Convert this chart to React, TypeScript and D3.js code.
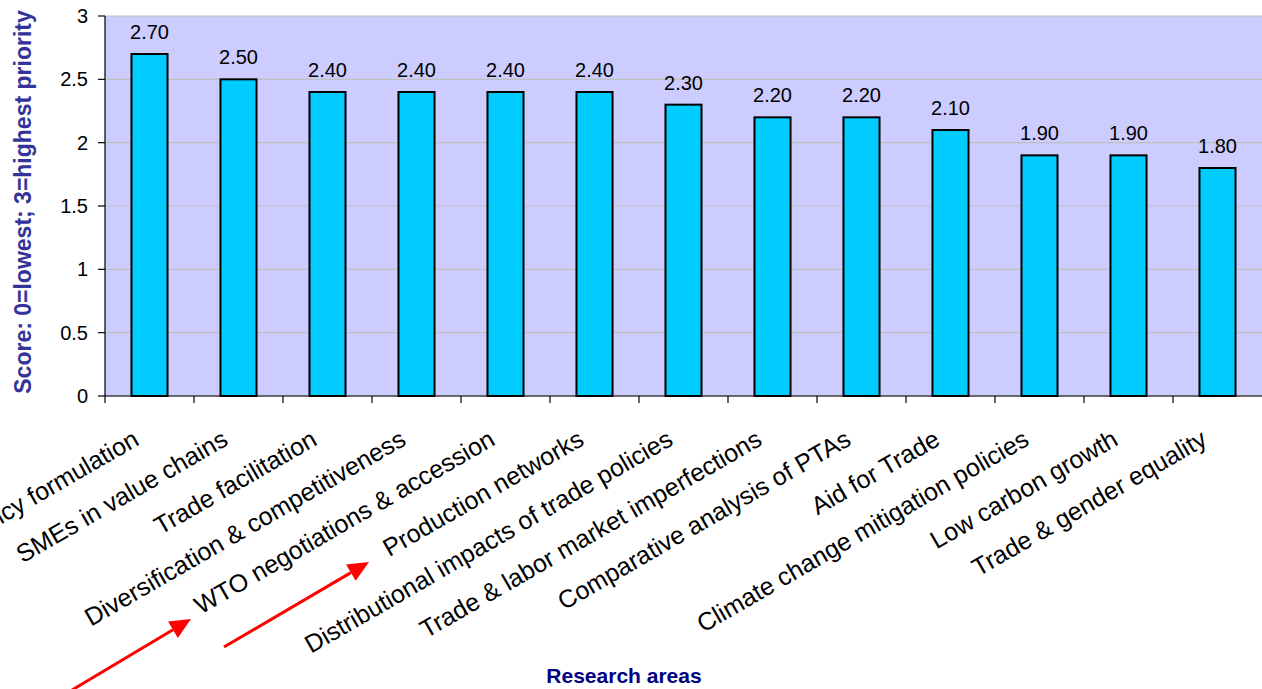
import React from "react";
import * as d3 from "d3";

const categories = [
  "Trade policy formulation",
  "SMEs in value chains",
  "Trade facilitation",
  "Diversification & competitiveness",
  "WTO negotiations & accession",
  "Production networks",
  "Distributional impacts of trade policies",
  "Trade & labor market imperfections",
  "Comparative analysis of PTAs",
  "Aid for Trade",
  "Climate change mitigation policies",
  "Low carbon growth",
  "Trade & gender equality",
];
const scores = [2.7, 2.5, 2.4, 2.4, 2.4, 2.4, 2.3, 2.2, 2.2, 2.1, 1.9, 1.9, 1.8];
const yTicks = [0, 0.5, 1, 1.5, 2, 2.5, 3];
const yTickLabels = ["0", "0.5", "1", "1.5", "2", "2.5", "3"];

// annotation arrows (from -> to)
const arrows = [
  { x1: 72, y1: 690, x2: 191, y2: 619 },
  { x1: 224, y1: 647, x2: 369, y2: 562 },
];

const W = 1262;
const H = 689;
const left = 105;
const right = 1262;
const top = 16;
const bottom = 396;
const FONT = "'Liberation Sans', Arial, Helvetica, sans-serif";

function arrowHead(a: { x1: number; y1: number; x2: number; y2: number }) {
  const dx = a.x2 - a.x1;
  const dy = a.y2 - a.y1;
  const len = Math.hypot(dx, dy);
  const ux = dx / len;
  const uy = dy / len;
  const hl = 21;
  const hw = 9.5;
  const bx = a.x2 - ux * hl;
  const by = a.y2 - uy * hl;
  return {
    pts: `${a.x2},${a.y2} ${bx - uy * hw},${by + ux * hw} ${bx + uy * hw},${by - ux * hw}`,
    bx,
    by,
  };
}

export default function App() {
  const x = d3.scaleBand<string>().domain(categories).range([left, right]).paddingInner(0).paddingOuter(0);
  const y = d3.scaleLinear().domain([0, 3]).range([bottom, top]);
  const bw = x.bandwidth();
  const barW = bw * 0.405;

  return (
    <svg
      width={W}
      height={H}
      style={{ position: "absolute", left: 0, top: 0, background: "#fff" }}
      fontFamily={FONT}
    >
      <rect x={left} y={top} width={right - left} height={bottom - top} fill="#CCCCFF" />
      {yTicks.map((t) => (
        <line key={"g" + t} x1={left} x2={right} y1={y(t)} y2={y(t)} stroke="#C0C0C0" strokeWidth={1.2} />
      ))}
      {categories.map((c, i) => {
        const cx = (x(c) as number) + bw / 2;
        return (
          <g key={c}>
            <rect
              x={cx - barW / 2}
              y={y(scores[i])}
              width={barW}
              height={bottom - y(scores[i])}
              fill="#00CCFF"
              stroke="#000"
              strokeWidth={2}
            />
            <text x={cx} y={y(scores[i]) - 15} textAnchor="middle" fontSize={20} fill="#000">
              {scores[i].toFixed(2)}
            </text>
          </g>
        );
      })}
      <line x1={left} x2={left} y1={top} y2={bottom} stroke="#000" strokeWidth={1.2} />
      <line x1={left} x2={right} y1={bottom} y2={bottom} stroke="#000" strokeWidth={1.2} />
      {yTicks.map((t, i) => (
        <g key={"t" + t}>
          <line x1={left - 7} x2={left} y1={y(t)} y2={y(t)} stroke="#000" strokeWidth={1.2} />
          <text x={left - 17} y={y(t)} dy="0.35em" textAnchor="end" fontSize={20} fill="#000">
            {yTickLabels[i]}
          </text>
        </g>
      ))}
      {categories.map((c) => (
        <line key={"xt" + c} x1={x(c) as number} x2={x(c) as number} y1={bottom} y2={bottom + 7} stroke="#000" strokeWidth={1.2} />
      ))}
      {categories.map((c) => {
        const cx = (x(c) as number) + bw / 2;
        const px = cx - 9;
        const py = 444;
        return (
          <text
            key={"l" + c}
            x={px}
            y={py}
            textAnchor="end"
            fontSize={25}
            fill="#000"
            transform={`rotate(-30, ${px}, ${py})`}
          >
            {c}
          </text>
        );
      })}
      <text
        x={31}
        y={202}
        textAnchor="middle"
        fontSize={23}
        fontWeight="bold"
        fill="#333399"
        transform={`rotate(-90, 31, 202)`}
      >
        Score: 0=lowest; 3=highest priority
      </text>
      <text x={624} y={683} textAnchor="middle" fontSize={21} fontWeight="bold" fill="#000080">
        Research areas
      </text>
      {arrows.map((a, i) => {
        const h = arrowHead(a);
        return (
          <g key={"a" + i}>
            <line x1={a.x1} y1={a.y1} x2={h.bx} y2={h.by} stroke="#FF0000" strokeWidth={3} />
            <polygon points={h.pts} fill="#FF0000" />
          </g>
        );
      })}
    </svg>
  );
}
